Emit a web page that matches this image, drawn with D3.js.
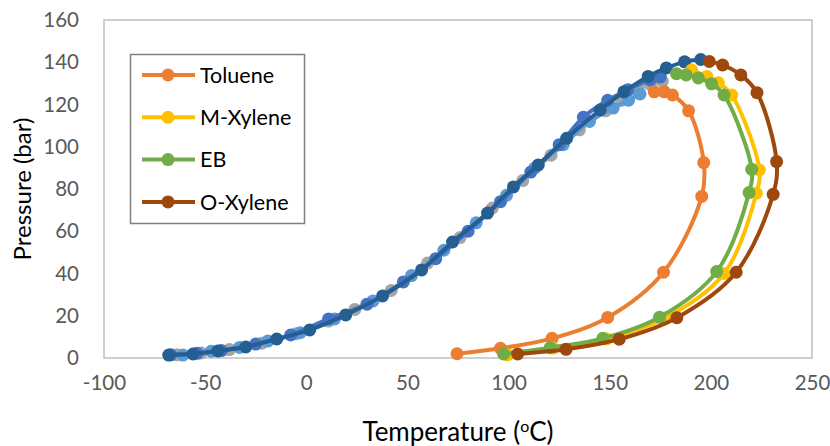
<!DOCTYPE html>
<html>
<head>
<meta charset="utf-8">
<script src="https://cdn.jsdelivr.net/npm/d3@7"></script>
<style>
  html, body { margin: 0; padding: 0; background: #fff; }
  svg { display: block; }
  text { font-family: Lato, "Open Sans", sans-serif; }
</style>
</head>
<body>
<svg id="chart" width="830" height="446"></svg>
<script>
// ---------- data (Temperature °C, Pressure bar) ----------
const xTicks = [-100, -50, 0, 50, 100, 150, 200, 250];
const yTicks = [0, 20, 40, 60, 80, 100, 120, 140, 160];

const grayBubble = [[-64,1.5],[-52,2.4],[-38,4],[-22,7],[-5,11.5],[11,17.5],[24,23],[42,32],[60,45],[76,57],[92,71],[107,84],[121,96],[135,108],[148,117],[156,122],[163.4,126.9],[170,129.5],[176,131]];
const lightBlueBubble = [[-61,1.4],[-47,3.2],[-33,5],[-19,8],[-3,12],[14,18.5],[33,27],[52,39],[68,51],[84,64],[99,77],[113,90],[127,101],[140,112],[151.7,118.3],[159.3,122],[165,125]];
const blueBubble = [[-67,1.5],[-54,2.2],[-42,3.5],[-25,6.6],[-7.7,10.9],[11,18.5],[30,25.5],[48,36],[64,47],[80,60],[96,74],[111,88],[125,101],[137,114],[149,122],[159,127],[170,131.6],[175,133]];
const darkBlueBubble = [[-68,1.4],[-56,1.9],[-43.7,3.3],[-29.9,5.2],[-14.6,9],[1.7,13.3],[19.5,20.4],[37.7,29.4],[57,41.7],[72.3,54.9],[89.6,68.6],[102.4,81],[114.7,91.4],[128.7,104],[145.3,117.4],[157,126],[169,133.3],[178,137.3],[187,140.2],[195,141.3]];

const toluene = [[74.5,2],[96,4.6],[121.5,9.3],[149,19.2],[176.6,40.6],[195.5,76.5],[196.5,92.5],[189,117],[181,124.5],[177,126],[172,126]];
const mXylene = [[99.5,1.5],[122,4.7],[148.5,9],[177.5,19],[206.5,40],[222.5,78],[224,89],[210.3,124.5],[203.7,130.3],[198,133.3],[190.5,136.3]];
const eb = [[97.5,1.9],[120.6,4.9],[146.6,9.3],[174.6,19.3],[202.9,40.9],[218.9,78.3],[220.2,89.3],[206.5,124.5],[200.4,129.8],[193.8,132.6],[187.8,134],[183,134.6]];
const oXylene = [[104.5,1.9],[128.4,4.1],[154.7,8.9],[183.2,19.1],[212.5,40.6],[230.8,77.5],[232.5,93],[222.8,125.6],[214.8,134],[205.8,138.7],[199.2,140.4]];

const seriesNames = ["Toluene", "M-Xylene", "EB", "O-Xylene"];

// ---------- layout ----------
const svg = d3.select("#chart");
const plot = { left: 104, right: 812, top: 20, bottom: 358 };

const x = d3.scaleLinear().domain([-100, 250]).range([plot.left, plot.right]);
const y = d3.scaleLinear().domain([0, 160]).range([plot.bottom, plot.top]);

// plot border
svg.append("rect")
  .attr("x", plot.left).attr("y", plot.top)
  .attr("width", plot.right - plot.left).attr("height", plot.bottom - plot.top)
  .attr("fill", "none").attr("stroke", "#BFBFBF").attr("stroke-width", 1.5);

// axes
const fmt = d => String(d);
const xAxis = svg.append("g")
  .attr("transform", `translate(0,${plot.bottom})`)
  .call(d3.axisBottom(x).tickValues(xTicks).tickSize(0).tickPadding(21).tickFormat(fmt));
const yAxis = svg.append("g")
  .attr("transform", `translate(${plot.left},0)`)
  .call(d3.axisLeft(y).tickValues(yTicks).tickSize(0).tickPadding(25).tickFormat(fmt));
[xAxis, yAxis].forEach(g => {
  g.select(".domain").remove();
  g.selectAll("text").attr("fill", "#595959").style("font-size", "20.5px").style("font-family", "Lato, sans-serif");
});
xAxis.selectAll("text").attr("dy", "0.55em");

// axis titles
const xt = svg.append("text")
  .attr("x", (plot.left + plot.right) / 2).attr("y", 441)
  .attr("text-anchor", "middle").attr("fill", "#000")
  .style("font-size", "26px");
xt.append("tspan").text("Temperature (");
xt.append("tspan").text("o").attr("baseline-shift", "super").style("font-size", "16px");
xt.append("tspan").text("C)");

svg.append("text")
  .attr("transform", `translate(31,${(plot.top + plot.bottom) / 2}) rotate(-90)`)
  .attr("text-anchor", "middle").attr("fill", "#000")
  .style("font-size", "24px")
  .text("Pressure (bar)");

// series
const line = d3.line().x(d => x(d[0])).y(d => y(d[1])).curve(d3.curveCatmullRom.alpha(0.5));

const allSeries = [
  { data: grayBubble, color: "#A5A5A5" },
  { data: lightBlueBubble, color: "#5B9BD5" },
  { data: blueBubble, color: "#4472C4" },
  { data: darkBlueBubble, color: "#255E91" },
  { data: toluene, color: "#ED7D31" },
  { data: mXylene, color: "#FFC000" },
  { data: eb, color: "#70AD47" },
  { data: oXylene, color: "#9E480E" }
];

const gSeries = svg.append("g");
allSeries.forEach(s => {
  const g = gSeries.append("g");
  g.append("path").attr("d", line(s.data))
    .attr("fill", "none").attr("stroke", s.color).attr("stroke-width", 4)
    .attr("stroke-linejoin", "round").attr("stroke-linecap", "round");
  g.selectAll("circle").data(s.data).join("circle")
    .attr("cx", d => x(d[0])).attr("cy", d => y(d[1])).attr("r", 6.5)
    .attr("fill", s.color);
});

// legend
const legend = svg.append("g");
legend.append("rect")
  .attr("x", 130.5).attr("y", 54.5).attr("width", 174).attr("height", 169)
  .attr("fill", "#fff").attr("stroke", "#7F7F7F").attr("stroke-width", 1.5);
const legendColors = ["#ED7D31", "#FFC000", "#70AD47", "#9E480E"];
seriesNames.forEach((name, i) => {
  const cy = 75 + i * 42.3;
  legend.append("line").attr("x1", 142).attr("x2", 195).attr("y1", cy).attr("y2", cy)
    .attr("stroke", legendColors[i]).attr("stroke-width", 4);
  legend.append("circle").attr("cx", 168).attr("cy", cy).attr("r", 6.5).attr("fill", legendColors[i]);
  legend.append("text").attr("x", 200).attr("y", cy).attr("dy", "0.36em")
    .attr("fill", "#000").style("font-size", "21.5px").text(name);
});
</script>
</body>
</html>
